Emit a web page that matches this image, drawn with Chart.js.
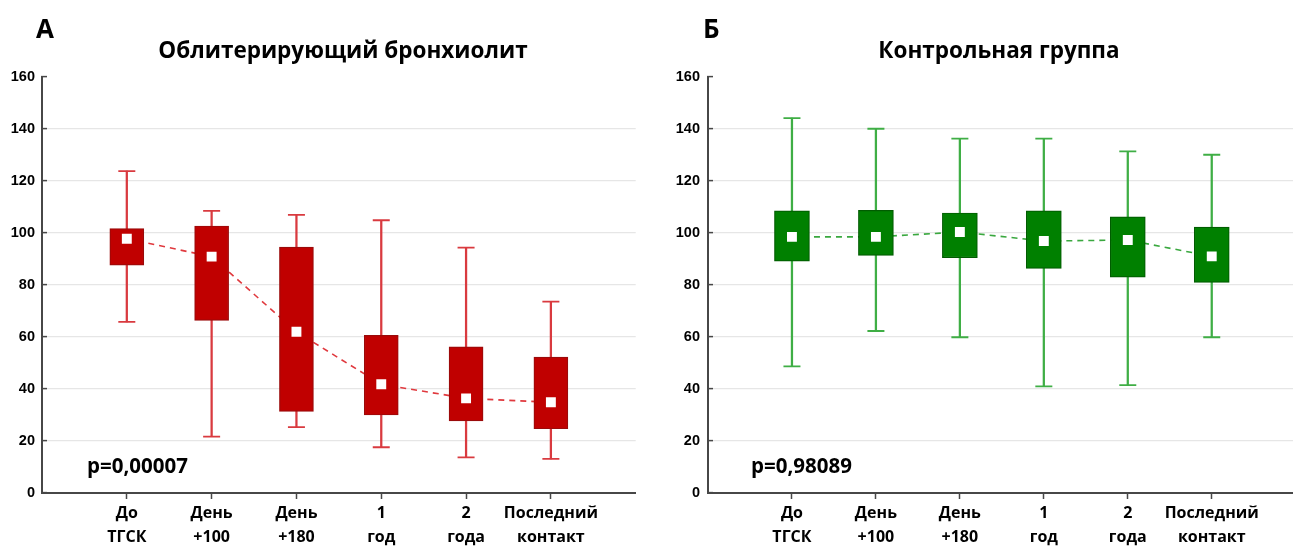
<!DOCTYPE html>
<html lang="ru">
<head>
<meta charset="utf-8">
<script src="https://cdn.jsdelivr.net/npm/chart.js@4/dist/chart.umd.min.js"></script>
<style>
  html, body { margin: 0; padding: 0; background: #fff; overflow: hidden; }
  body { width: 1293px; height: 547px; position: relative; }
  .panel { position: absolute; top: 0; }
  .txt { position: absolute; font-family: "Open Sans", sans-serif; font-weight: 700; color: #000; white-space: nowrap; line-height: 1; }
  .letter { font-size: 26px; }
  .title { font-size: 22.5px; transform: translateX(-50%); }
  .pval { font-size: 20.5px; font-weight: 700; }
</style>
</head>
<body>
<div class="panel" id="pA" style="left:0px;"><canvas id="chartA" width="646" height="547"></canvas></div>
<div class="panel" id="pB" style="left:646px;"><canvas id="chartB" width="660" height="547"></canvas></div>

<div class="txt letter" style="left:36px; top:15px;">А</div>
<div class="txt title" style="left:343px; top:39px;">Облитерирующий бронхиолит</div>
<div class="txt pval" style="left:87px; top:455px;">p=0,00007</div>

<div class="txt letter" style="left:703px; top:15px;">Б</div>
<div class="txt title" style="left:999px; top:39px;">Контрольная группа</div>
<div class="txt pval" style="left:751px; top:455px;">p=0,98089</div>

<script>
// Time points
const categories = ['До ТГСК', 'День +100', 'День +180', '1 год', '2 года', 'Последний контакт'];
const yTicks = [0, 20, 40, 60, 80, 100, 120, 140, 160];

// Облитерирующий бронхиолит
const boMin    = [65.8, 21.7, 25.3, 17.6, 13.7, 13.1];
const boQ1     = [87.6, 66.4, 31.4, 30.0, 27.7, 24.7];
const boMedian = [97.8, 90.9, 62.0, 41.8, 36.4, 34.9];
const boQ3     = [101.7, 102.7, 94.6, 60.6, 56.2, 52.3];
const boMax    = [123.8, 108.5, 107.0, 104.9, 94.4, 73.6];

// Контрольная группа
const ctMin    = [48.7, 62.3, 59.9, 41.0, 41.5, 59.9];
const ctQ1     = [89.2, 91.4, 90.5, 86.4, 83.0, 81.0];
const ctMedian = [98.5, 98.5, 100.4, 96.9, 97.3, 91.0];
const ctQ3     = [108.5, 108.7, 107.7, 108.5, 106.2, 102.3];
const ctMax    = [144.2, 140.1, 136.3, 136.3, 131.4, 130.1];

const AXIS = '#474747';
const GRID = '#e6e6e6';
const FONT = '"Open Sans", sans-serif';

function boxChart(canvasId, s, style, layout) {
  const pos = categories.map((_, i) => i + 1);
  const pts = arr => arr.map((v, i) => ({ x: pos[i], y: v }));
  const ranges = (lo, hi) => lo.map((v, i) => ({ x: pos[i], y: [v, hi[i]] }));

  return new Chart(document.getElementById(canvasId), {
    type: 'bar',
    data: {
      datasets: [
        { // dashed line through medians
          type: 'line', data: pts(s.median), order: 6,
          borderColor: style.dash, borderWidth: 1.6, borderDash: [6, 5],
          pointRadius: 0, fill: false, tension: 0
        },
        { // whisker stems
          type: 'bar', data: ranges(s.min, s.max), order: 5, grouped: false,
          barThickness: 1.6, backgroundColor: style.whisker, borderWidth: 0
        },
        { // whisker caps, top
          type: 'line', data: pts(s.max), order: 4, showLine: false,
          pointStyle: 'line', pointRadius: 8.5, pointBorderWidth: 1.8,
          pointBorderColor: style.whisker
        },
        { // whisker caps, bottom
          type: 'line', data: pts(s.min), order: 4, showLine: false,
          pointStyle: 'line', pointRadius: 8.5, pointBorderWidth: 1.8,
          pointBorderColor: style.whisker
        },
        { // interquartile boxes
          type: 'bar', data: ranges(s.q1, s.q3), order: 2, grouped: false,
          barThickness: style.boxW, backgroundColor: style.box,
          borderColor: style.boxEdge, borderWidth: 1.2, borderSkipped: false
        },
        { // medians
          type: 'line', data: pts(s.median), order: 1, showLine: false,
          pointStyle: 'rect', pointRadius: 7, pointBorderWidth: 0,
          pointBackgroundColor: '#ffffff'
        }
      ]
    },
    options: {
      responsive: false,
      animation: false,
      events: [],
      layout: { padding: layout.padding },
      plugins: { legend: { display: false }, tooltip: { enabled: false }, title: { display: false } },
      scales: {
        x: {
          type: 'linear', min: 0, max: 7, offset: false,
          afterFit: a => { a.height = 54; },
          afterBuildTicks: a => { a.ticks = [0, 1, 2, 3, 4, 5, 6, 7].map(v => ({ value: v })); },
          border: { color: AXIS, width: 2 },
          grid: {
            offset: false, drawOnChartArea: false, drawTicks: true, tickLength: 6, tickWidth: 1.5,
            tickColor: c => (c.tick && c.tick.value >= 1 && c.tick.value <= 6) ? AXIS : 'rgba(0,0,0,0)'
          },
          ticks: {
            autoSkip: false, maxRotation: 0, padding: 2, color: '#000',
            font: { family: FONT, size: 16, weight: '700', lineHeight: 1.5 },
            callback: v => { const c = categories[v - 1]; return c ? c.split(' ') : ''; }
          }
        },
        y: {
          type: 'linear', min: 0, max: 160,
          afterFit: a => { a.width = layout.yWidth; },
          afterBuildTicks: a => { a.ticks = yTicks.map(v => ({ value: v })); },
          border: { color: AXIS, width: 2 },
          grid: {
            drawTicks: true, tickLength: -5, tickWidth: 1.5, tickColor: AXIS,
            lineWidth: 1.2,
            color: c => (c.tick && (c.tick.value === 0 || c.tick.value === 160)) ? 'rgba(0,0,0,0)' : GRID
          },
          ticks: {
            padding: layout.labelPad, color: '#000',
            font: { family: '"Liberation Sans", Arial, sans-serif', size: 14.5, weight: '700' }
          }
        }
      }
    }
  });
}

boxChart('chartA',
  { min: boMin, q1: boQ1, median: boMedian, q3: boQ3, max: boMax },
  { box: '#c00000', boxEdge: '#9a0a0a', whisker: '#d93a3f', dash: '#e0393e', boxW: 34 },
  { padding: { left: 0, right: 10, top: 77, bottom: 0 }, yWidth: 42, labelPad: 12 }
);

boxChart('chartB',
  { min: ctMin, q1: ctQ1, median: ctMedian, q3: ctQ3, max: ctMax },
  { box: '#008000', boxEdge: '#005c00', whisker: '#3fae45', dash: '#3aa83f', boxW: 35 },
  { padding: { left: 0, right: 6, top: 77, bottom: 0 }, yWidth: 62, labelPad: 13 }
);
</script>
</body>
</html>
